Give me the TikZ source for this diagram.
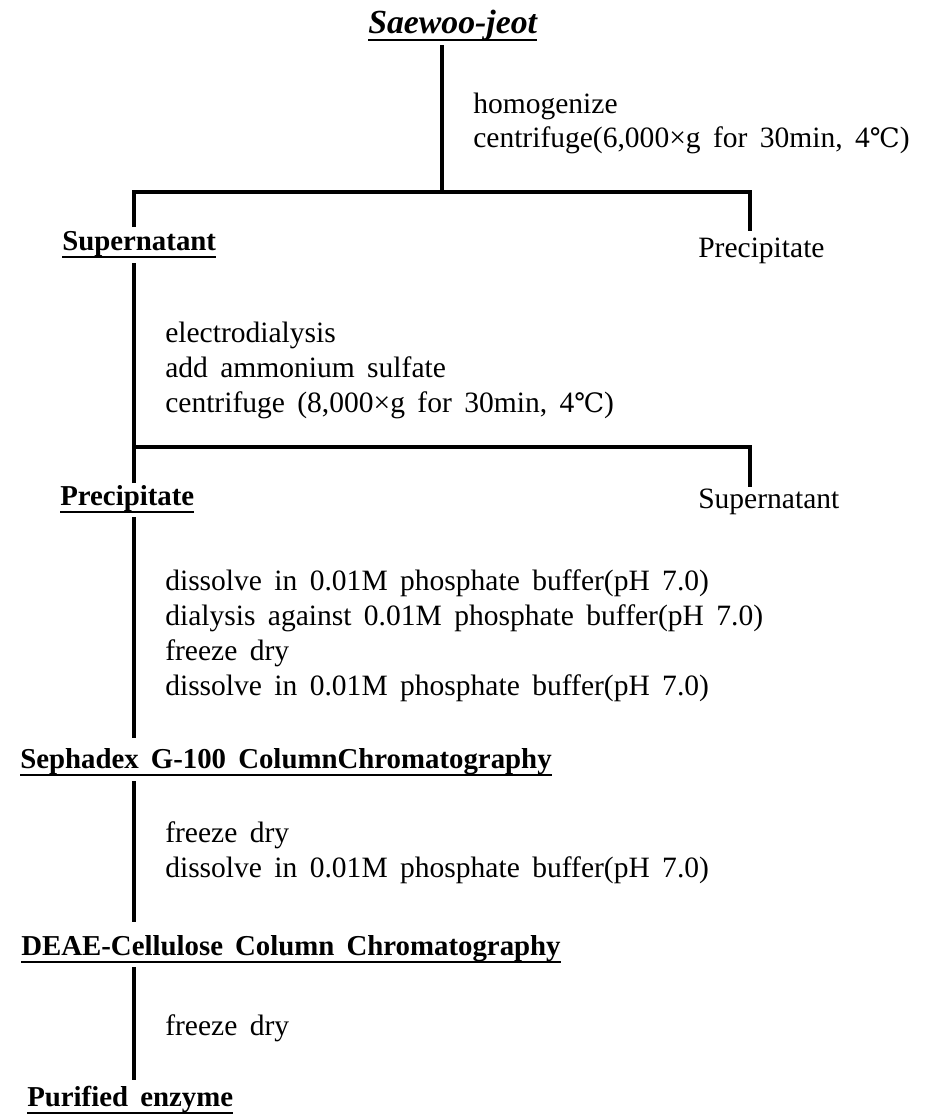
\documentclass[tikz,border=0pt]{standalone}
\usepackage{fontspec}
\setmainfont{Liberation Serif}
\newfontfamily\symf{DejaVu Serif}
\newcommand{\degC}{{\symf\fontsize{19}{24}\selectfont ℃}}

\tikzset{
  flow/.style={line width=2.2pt},
  uline/.style={line width=1.1pt},
  heading/.style={anchor=base west, inner sep=0pt,
    font={\fontsize{20.5}{24}\selectfont\bfseries\spaceskip=0.42em\relax}},
  titlebox/.style={heading, font={\fontsize{24}{28}\selectfont\bfseries\itshape}},
  stepnote/.style={anchor=base west, inner sep=0pt,
    font={\fontsize{21}{25}\selectfont\spaceskip=0.42em\relax}},
}
% underline a text node
\newcommand{\underl}[1]{\draw[uline] ([yshift=-0.18cm]#1.base west) -- ([yshift=-0.18cm]#1.base east);}

\begin{document}
\begin{tikzpicture}[x=0.025cm,y=-0.025cm]
  \useasboundingbox (0,0) rectangle (936,1114);

  % headings
  \node[titlebox] (raw) at (368,33) {Saewoo-jeot};
  \node[heading] (sup1) at (62,250) {Supernatant};
  \node[stepnote] (pre1) at (698,257) {Precipitate};
  \node[heading] (pre2) at (60,505) {Precipitate};
  \node[stepnote] (sup2) at (698,508) {Supernatant};
  \node[heading] (seph) at (20,768) {Sephadex G-100 ColumnChromatography};
  \node[heading] (deae) at (21,955) {DEAE-Cellulose Column Chromatography};
  \node[heading] (pure) at (27,1106) {Purified enzyme};
  \foreach \n in {raw,sup1,pre2,seph,deae,pure}{\underl{\n}}

  % steps
  \foreach \t [count=\i] in {homogenize, {centrifuge(6,000×g for 30min, 4\degC)}}
    \node[stepnote] (a\i) at (473,79+34*\i) {\t};
  \foreach \t [count=\i] in {electrodialysis, add ammonium sulfate,
      {centrifuge (8,000×g for 30min, 4\degC)}}
    \node[stepnote] (b\i) at (165,307+35*\i) {\t};
  \foreach \t [count=\i] in {dissolve in 0.01M phosphate buffer(pH 7.0),
      dialysis against 0.01M phosphate buffer(pH 7.0), freeze dry,
      dissolve in 0.01M phosphate buffer(pH 7.0)}
    \node[stepnote] (c\i) at (165,555+35*\i) {\t};
  \foreach \t [count=\i] in {freeze dry, dissolve in 0.01M phosphate buffer(pH 7.0)}
    \node[stepnote] (d\i) at (165,807+35*\i) {\t};
  \node[stepnote] (e1) at (165,1035) {freeze dry};

  % lines
  \coordinate (top) at (442,45);
  \coordinate (fork1) at (442,192);
  \coordinate (l1) at (134,192);
  \coordinate (r1) at (750,192);
  \draw[flow] (top) -- (fork1);
  \draw[flow] (134,227) -- (l1) -- (r1) -- (750,231);

  \coordinate (l2) at (134,447);
  \coordinate (r2) at (750,447);
  \draw[flow] (134,263) -- (l2);
  \draw[flow] (134,483) -- (l2) -- (r2) -- (750,487);

  \draw[flow] (134,517) -- (134,738);
  \draw[flow] (134,781) -- (134,922);
  \draw[flow] (134,967) -- (134,1080);
\end{tikzpicture}
\end{document}
